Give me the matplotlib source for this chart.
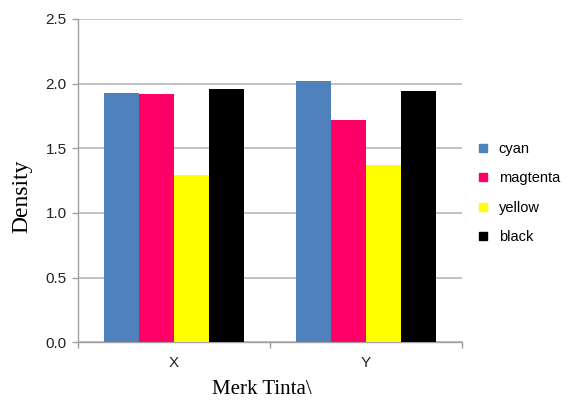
import numpy as np
import matplotlib.pyplot as plt
from matplotlib.lines import Line2D

# -----------------------------
# Data
# -----------------------------
brands = ["X", "Y"]
inks = ["cyan", "magtenta", "yellow", "black"]
cyan = [1.93, 2.02]
magenta = [1.92, 1.72]
yellow = [1.29, 1.37]
black = [1.96, 1.94]
y_ticks = [0.0, 0.5, 1.0, 1.5, 2.0, 2.5]

series = [cyan, magenta, yellow, black]
colors = ["#4F81BD", "#FF0066", "#FFFF00", "#000000"]

# -----------------------------
# Figure
# -----------------------------
fig = plt.figure(figsize=(5.69, 4.03), dpi=100)
ax = fig.add_axes([0.137, 0.151, 0.675, 0.802])

x = np.arange(len(brands))
width = 0.182
for i, (vals, col) in enumerate(zip(series, colors)):
    ax.bar(x + (i - 1.5) * width, vals, width, color=col, zorder=3)

ax.set_xlim(-0.5, 1.5)
ax.set_ylim(0, 2.5)
ax.set_yticks(y_ticks)
ax.set_yticklabels([f"{v:.1f}" for v in y_ticks], fontsize=11,
                   family="Liberation Sans", color="#222222")
ax.set_xticks(x)
ax.set_xticklabels(brands, fontsize=11, family="Liberation Sans", color="#222222")
ax.set_xticks([-0.5, 0.5, 1.5], minor=True)

ax.grid(axis="y", color="#bdbdbd", linewidth=1.3, zorder=0)
ax.tick_params(axis="y", length=4, color="#a0a0a0", width=1, pad=4)
ax.tick_params(axis="x", which="major", length=0, pad=10)
ax.tick_params(axis="x", which="minor", length=4, color="#a0a0a0", width=1)

for s in ["top", "right"]:
    ax.spines[s].set_visible(False)
for s in ["left", "bottom"]:
    ax.spines[s].set_color("#a0a0a0")
    ax.spines[s].set_linewidth(1)

ax.set_ylabel("Density", family="Liberation Serif", fontsize=17)
ax.yaxis.set_label_coords(-0.12, 0.45)
ax.set_xlabel("Merk Tinta\\", family="Liberation Serif", fontsize=15)
ax.xaxis.set_label_coords(0.479, -0.118)

# legend to the right of the plot
handles = [Line2D([], [], marker="s", linestyle="none", markersize=6,
                  markerfacecolor=c, markeredgecolor=c) for c in colors]
fig.legend(handles, inks, loc="upper left", bbox_to_anchor=(0.815, 0.68),
           frameon=False, handlelength=0.8, handletextpad=0.7,
           labelspacing=1.05, prop={"family": "Liberation Sans", "size": 10.5})

fig.savefig("out.png", dpi=100)
